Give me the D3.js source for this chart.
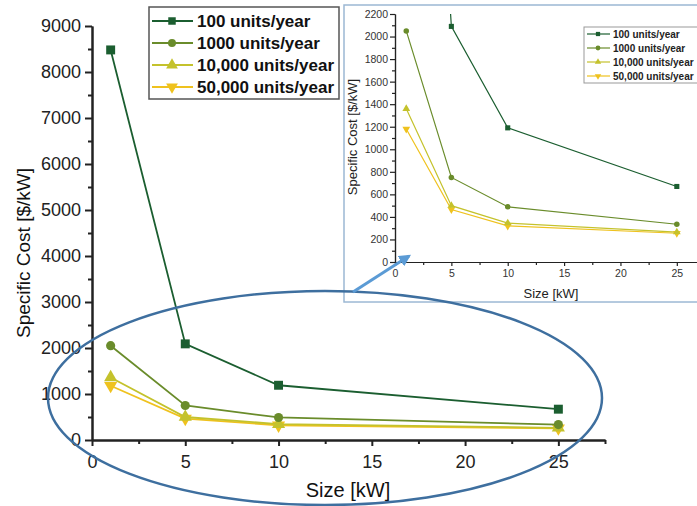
<!DOCTYPE html>
<html><head><meta charset="utf-8">
<script src="https://cdn.jsdelivr.net/npm/d3@7"></script>
<style>
body{margin:0;background:#fff}
svg{display:block;font-family:"Liberation Sans",Arial,Helvetica,sans-serif}
</style>
</head><body>
<svg id="chart" width="697" height="506"></svg>
<script>
// System size in kW and specific cost ($/kW) per production volume
const sizes = [1, 5, 10, 25];
const seriesNames = ["100 units/year", "1000 units/year", "10,000 units/year", "50,000 units/year"];
const cost100 = [8480, 2090, 1190, 670];
const cost1000 = [2050, 750, 490, 335];
const cost10000 = [1360, 500, 345, 265];
const cost50000 = [1180, 465, 320, 255];
const mainYTicks = [0, 1000, 2000, 3000, 4000, 5000, 6000, 7000, 8000, 9000];
const mainXTicks = [0, 5, 10, 15, 20, 25];
const insetYTicks = [0, 200, 400, 600, 800, 1000, 1200, 1400, 1600, 1800, 2000, 2200];
const insetXTicks = [0, 5, 10, 15, 20, 25];

const seriesColors = ["#1b5e30", "#6a8c2b", "#c4c22c", "#efc21e"];
const triDown = {draw(ctx, size){ const s = Math.sqrt(size/ (Math.sqrt(3)/4)); const h = s*Math.sqrt(3)/2;
  ctx.moveTo(-s/2, -h/3); ctx.lineTo(s/2, -h/3); ctx.lineTo(0, 2*h/3); ctx.closePath(); }};
const triUp = {draw(ctx, size){ const s = Math.sqrt(size/ (Math.sqrt(3)/4)); const h = s*Math.sqrt(3)/2;
  ctx.moveTo(-s/2, h/3); ctx.lineTo(s/2, h/3); ctx.lineTo(0, -2*h/3); ctx.closePath(); }};
const seriesShapes = [d3.symbolSquare, d3.symbolCircle, triUp, triDown];
const seriesValues = [cost100, cost1000, cost10000, cost50000];
const series = seriesNames.map((name, i) => ({
  name, color: seriesColors[i], shape: seriesShapes[i],
  points: sizes.map((s, j) => ({x: s, y: seriesValues[i][j]}))
}));

const svg = d3.select("#chart");
function range(a, b, step){ const r=[]; for(let v=a; v<=b+1e-9; v+=step) r.push(v); return r; }

// ---------- main chart ----------
const x = d3.scaleLinear().domain([0, 27.5]).range([92, 605]);
const y = d3.scaleLinear().domain([0, 9000]).range([440, 26]);
const main = svg.append("g");

function styleAxis(g, width, fs, color){
  g.select(".domain").attr("stroke", "#222").attr("stroke-width", width);
  g.selectAll(".tick line").attr("stroke", "#222").attr("stroke-width", width);
  g.selectAll(".tick text").attr("fill", color).attr("font-size", fs)
    .attr("font-family", '"Liberation Sans",Arial,sans-serif');
}

// minor ticks
main.append("g").attr("transform", "translate(92,0)")
  .call(d3.axisLeft(y).tickValues(range(500, 9000, 1000)).tickSize(4).tickFormat("").tickSizeOuter(0))
  .call(g => styleAxis(g, 2, 18, "#222"));
main.append("g").attr("transform", "translate(0,440)")
  .call(d3.axisBottom(x).tickValues(range(2.5, 27.5, 5)).tickSize(4).tickFormat("").tickSizeOuter(0))
  .call(g => styleAxis(g, 2, 18, "#222"));
// major ticks
main.append("g").attr("transform", "translate(92,0)")
  .call(d3.axisLeft(y).tickValues(mainYTicks).tickSize(7).tickPadding(4).tickFormat(d3.format("d")).tickSizeOuter(0))
  .call(g => styleAxis(g, 2, 18, "#222"));
main.append("g").attr("transform", "translate(0,440)")
  .call(d3.axisBottom(x).tickValues(mainXTicks).tickSize(6).tickPadding(9).tickFormat(d3.format("d")).tickSizeOuter(0))
  .call(g => styleAxis(g, 2, 18, "#222"));

main.append("text").attr("transform", "translate(30,253) rotate(-90)")
  .attr("text-anchor", "middle").attr("font-size", 19).attr("fill", "#111")
  .text("Specific Cost [$/kW]");
main.append("text").attr("x", 348).attr("y", 497)
  .attr("text-anchor", "middle").attr("font-size", 20).attr("fill", "#111")
  .text("Size [kW]");

const lineMain = d3.line().x(d => x(d.x)).y(d => y(d.y));
series.slice().reverse().forEach(s => {
  main.append("path").datum(s.points).attr("d", lineMain)
    .attr("fill", "none").attr("stroke", s.color).attr("stroke-width", 1.8);
  main.selectAll(null).data(s.points).enter().append("path")
    .attr("transform", d => `translate(${x(d.x)},${y(d.y)})`)
    .attr("d", d3.symbol().type(s.shape).size(s.shape === d3.symbolCircle ? 66 : s.shape === d3.symbolSquare ? 80 : 75))
    .attr("fill", s.color);
});

// main legend
const leg = main.append("g");
leg.append("rect").attr("x", 149).attr("y", 7).attr("width", 190).attr("height", 92)
  .attr("fill", "#fff").attr("stroke", "#555").attr("stroke-width", 1.5);
series.forEach((s, i) => {
  const ly = 21 + i * 22;
  leg.append("line").attr("x1", 152).attr("x2", 193).attr("y1", ly).attr("y2", ly)
    .attr("stroke", s.color).attr("stroke-width", 2);
  leg.append("path").attr("transform", `translate(172,${ly})`)
    .attr("d", d3.symbol().type(s.shape).size(s.shape === d3.symbolCircle ? 50 : s.shape === d3.symbolSquare ? 56 : 60))
    .attr("fill", s.color);
  leg.append("text").attr("x", 197).attr("y", ly + 6).attr("font-size", 17)
    .attr("font-weight", "bold").attr("fill", "#111").text(s.name);
});

// ---------- inset (zoomed view) ----------
const inset = svg.append("g");
inset.append("rect").attr("x", 344).attr("y", 5).attr("width", 380).attr("height", 297)
  .attr("fill", "#fff").attr("stroke", "#9cb8d4").attr("stroke-width", 1.5);

const xi = d3.scaleLinear().domain([0, 27.5]).range([395, 705]);
const yi = d3.scaleLinear().domain([0, 2200]).range([262, 14]);

inset.append("g").attr("transform", "translate(395,0)")
  .call(d3.axisLeft(yi).tickValues(range(100, 2100, 200)).tickSize(3).tickFormat("").tickSizeOuter(0))
  .call(g => styleAxis(g, 1.2, 10.5, "#333"));
inset.append("g").attr("transform", "translate(0,262)")
  .call(d3.axisBottom(xi).tickValues(range(2.5, 27.5, 5)).tickSize(3).tickFormat("").tickSizeOuter(0))
  .call(g => styleAxis(g, 1.2, 10.5, "#333"));
inset.append("g").attr("transform", "translate(395,0)")
  .call(d3.axisLeft(yi).tickValues(insetYTicks).tickSize(5).tickPadding(2).tickFormat(d3.format("d")).tickSizeOuter(0))
  .call(g => styleAxis(g, 1.2, 10.5, "#333"));
inset.append("g").attr("transform", "translate(0,262)")
  .call(d3.axisBottom(xi).tickValues(insetXTicks).tickSize(4).tickPadding(4).tickFormat(d3.format("d")).tickSizeOuter(0))
  .call(g => styleAxis(g, 1.2, 10.5, "#333"));

inset.append("text").attr("transform", "translate(357,137) rotate(-90)")
  .attr("text-anchor", "middle").attr("font-size", 13).attr("fill", "#222")
  .text("Specific Cost [$/kW]");
inset.append("text").attr("x", 551).attr("y", 298)
  .attr("text-anchor", "middle").attr("font-size", 13).attr("fill", "#222")
  .text("Size [kW]");

svg.append("clipPath").attr("id", "insetClip").append("rect")
  .attr("x", 395).attr("y", 14).attr("width", 310).attr("height", 248);
const plotI = inset.append("g").attr("clip-path", "url(#insetClip)");
const lineI = d3.line().x(d => xi(d.x)).y(d => yi(d.y));
series.slice().reverse().forEach(s => {
  plotI.append("path").datum(s.points).attr("d", lineI)
    .attr("fill", "none").attr("stroke", s.color).attr("stroke-width", 1.2);
});
series.slice().reverse().forEach(s => {
  inset.selectAll(null).data(s.points.filter(d => d.y <= 2200)).enter().append("path")
    .attr("transform", d => `translate(${xi(d.x)},${yi(d.y)})`)
    .attr("d", d3.symbol().type(s.shape).size(s.shape === d3.symbolCircle ? 24 : s.shape === d3.symbolSquare ? 26 : 26))
    .attr("fill", s.color);
});

// inset legend
const legI = inset.append("g");
legI.append("rect").attr("x", 584).attr("y", 27).attr("width", 130).attr("height", 56)
  .attr("fill", "#fff").attr("stroke", "#999").attr("stroke-width", 1);
series.forEach((s, i) => {
  const ly = 34 + i * 14;
  legI.append("line").attr("x1", 587).attr("x2", 610).attr("y1", ly).attr("y2", ly)
    .attr("stroke", s.color).attr("stroke-width", 1.2);
  legI.append("path").attr("transform", `translate(598,${ly})`)
    .attr("d", d3.symbol().type(s.shape).size(18)).attr("fill", s.color);
  legI.append("text").attr("x", 613).attr("y", ly + 4).attr("font-size", 10)
    .attr("font-weight", "bold").attr("fill", "#222").text(s.name);
});

// ---------- highlight ellipse and pointer arrow ----------
svg.append("ellipse").attr("cx", 325).attr("cy", 398).attr("rx", 277).attr("ry", 107)
  .attr("fill", "none").attr("stroke", "#3e6f9f").attr("stroke-width", 2.5);

svg.append("defs").append("marker").attr("id", "arrowHead")
  .attr("viewBox", "0 0 10 10").attr("refX", 8).attr("refY", 5)
  .attr("markerWidth", 4).attr("markerHeight", 4).attr("orient", "auto")
  .append("path").attr("d", "M0,0 L10,5 L0,10 Z").attr("fill", "#5b9bd5");
svg.append("line").attr("x1", 353).attr("y1", 292).attr("x2", 409).attr("y2", 256)
  .attr("stroke", "#5b9bd5").attr("stroke-width", 3).attr("marker-end", "url(#arrowHead)");
</script>
</body></html>
